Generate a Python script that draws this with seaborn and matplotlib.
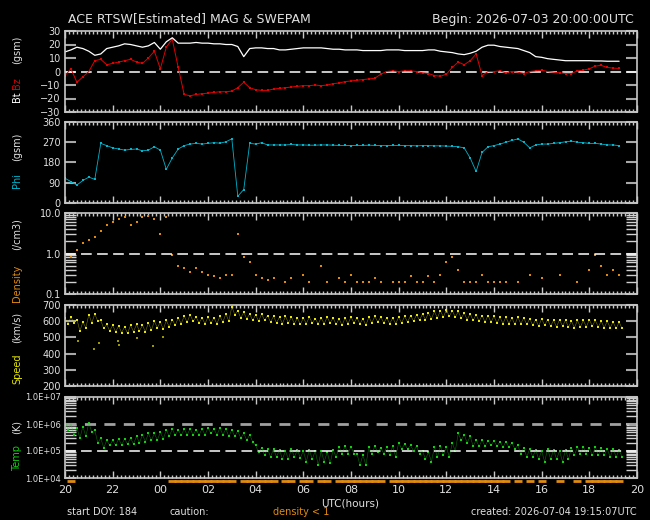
import numpy as np
import pandas as pd
import matplotlib
matplotlib.use('Agg')
import matplotlib.pyplot as plt
import matplotlib.ticker as mticker
import matplotlib.transforms as mtransforms
import seaborn as sns

# 15-minute samples, hours since 2026-07-03 20:00 UTC
hours = np.arange(0, 23.5, 0.25)

bt = [14.5, 16, 18, 17, 15, 12, 13, 17,
      18, 19, 20.5, 20, 19, 18, 19, 21.5,
      16.5, 22, 25, 21, 21, 21, 21.5, 21,
      21, 20.5, 20.5, 20, 20, 18.5, 11, 17,
      17.5, 17.5, 17, 17, 16, 16, 16.5, 17,
      17.5, 17.5, 17.5, 17.5, 17, 16.5, 16.5, 16,
      16, 16, 15.5, 15.5, 15.5, 15.5, 16, 16,
      16, 15.5, 15.5, 15.5, 15.5, 16, 16, 15,
      14.5, 14, 13, 12.5, 13.5, 15, 18, 19.5,
      19.5, 18.5, 18, 17.5, 17, 15.5, 14, 11,
      10.5, 9.5, 9, 8.5, 8, 8, 8, 8,
      8, 7.8, 7.8, 7.6, 7.6, 7.6]

bz = [-3, 2, -8, -4, 0, 8, 9, 5,
      6, 7, 8, 9, 7, 6, 10, 15,
      2, 18, 24, 3, -17, -18, -17, -16.5,
      -16, -15.5, -15, -15, -14.5, -12, -8, -12,
      -13.5, -14, -14, -13, -12.5, -12, -11.5, -11,
      -10.5, -10.5, -10, -10.5, -10, -9, -8.5, -7.5,
      -7, -6.5, -6, -5.5, -5, -2, 0, 0.5,
      0, 0.5, 0.5, 0, -1, -1.5, -3, -3.5,
      -2, 3, 7, 5, 8, 13, -3, 0,
      0, 0.5, -1, 0, -0.5, -1.5, 0, 0.5,
      1, 0, -0.5, -1, -1.5, -1.5, 0.5, 1,
      2, 4, 4.5, 3, 2.5, 2.3]

phi = [110, 95, 80, 100, 115, 105, 265, 255,
       245, 240, 235, 238, 240, 232, 235, 250,
       235, 150, 200, 240, 255, 262, 265, 262,
       265, 268, 266, 272, 285, 30, 60, 265,
       262, 268, 258, 258, 258, 258, 260, 258,
       258, 257, 257, 258, 258, 257, 256, 256,
       255, 256, 256, 257, 256, 255, 255, 256,
       256, 255, 255, 254, 255, 255, 254, 254,
       253, 252, 250, 245, 200, 140, 225, 250,
       255, 262, 270, 278, 285, 270, 245, 258,
       262, 262, 265, 268, 272, 275, 270, 268,
       265, 265, 262, 258, 258, 255]

nan = np.nan
density = [1.1, 0.8, 1.2, 1.8, 2.2, 2.6, 3.5, 5.0,
           6.0, 7.0, 8.0, 5.0, 6.0, 8.0, 8.5, 7.0,
           3.0, 8.0, 0.9, 0.5, 0.45, 0.35, 0.45, 0.35,
           0.3, 0.28, 0.25, 0.3, 0.3, 3.0, 0.8, 0.6,
           0.3, 0.25, 0.22, 0.25, nan, 0.2, 0.25, nan,
           0.3, 0.2, nan, 0.5, 0.2, nan, 0.25, 0.2,
           0.3, 0.2, 0.2, 0.2, 0.25, 0.2, nan, 0.2,
           0.2, 0.2, 0.28, 0.2, 0.2, 0.28, 0.2, 0.3,
           0.6, 0.8, 0.4, 0.2, 0.2, 0.2, 0.3, 0.2,
           0.2, 0.2, 0.2, nan, 0.2, nan, 0.3, nan,
           0.25, nan, nan, 0.3, nan, nan, 0.2, nan,
           0.4, 0.9, 0.5, 0.3, 0.4, 0.3]

speed_hi = [620, 625, 610, 595, 640, 645, 605, 580,
            575, 570, 565, 575, 580, 575, 590, 600,
            595, 605, 610, 620, 630, 640, 625, 620,
            625, 620, 630, 645, 690, 665, 655, 645,
            640, 645, 635, 630, 625, 630, 625, 620,
            620, 625, 615, 620, 625, 620, 615, 620,
            625, 620, 615, 625, 630, 625, 620, 620,
            625, 630, 635, 640, 645, 650, 660, 665,
            670, 665, 660, 650, 645, 640, 635, 635,
            630, 625, 625, 620, 625, 620, 615, 610,
            615, 610, 605, 610, 605, 600, 605, 605,
            610, 605, 600, 600, 595, 595]

speed_lo = [585, 590, 540, 560, 590, 600, 555, 540,
            535, 530, 525, 535, 540, 535, 545, 560,
            550, 565, 575, 585, 595, 600, 590, 585,
            590, 585, 595, 600, 640, 620, 615, 605,
            600, 605, 595, 590, 585, 590, 585, 580,
            585, 590, 585, 585, 590, 580, 575, 585,
            590, 585, 575, 590, 595, 590, 585, 585,
            590, 595, 600, 605, 610, 615, 620, 625,
            630, 625, 620, 610, 605, 600, 595, 595,
            590, 585, 585, 580, 585, 580, 575, 570,
            575, 570, 565, 570, 565, 560, 565, 565,
            570, 565, 560, 560, 555, 555]

speed_out_t = [0.55, 1.23, 1.41, 2.24, 2.26, 3.0, 3.68, 4.1]
speed_out_v = [475, 427, 465, 475, 455, 496, 444, 502]

temp_hi = [1.4e6, 1.0e6, 7e5, 8e5, 1.1e6, 6e5, 3e5, 2.5e5,
           2.5e5, 2.8e5, 2.8e5, 3.0e5, 3.5e5, 4e5, 4.5e5, 4.5e5,
           5e5, 6e5, 6.5e5, 6e5, 6.5e5, 6.5e5, 6e5, 6.5e5,
           7e5, 6.5e5, 7e5, 6.5e5, 6e5, 5.5e5, 4.5e5, 4e5,
           1.6e5, 1.3e5, 1.2e5, 1.2e5, 1.1e5, 1.0e5, 1.2e5, 1.1e5,
           1.0e5, 1.1e5, 1.0e5, 1.0e5, 9e4, 1.1e5, 1.4e5, 1.5e5,
           1.4e5, 8e4, 7e4, 1.4e5, 1.5e5, 1.3e5, 1.4e5, 1.5e5,
           2.0e5, 1.8e5, 1.6e5, 1.5e5, 1.0e5, 9e4, 1.4e5, 1.5e5,
           1.4e5, 2.0e5, 4.5e5, 4e5, 3.5e5, 2.5e5, 2.5e5, 2.4e5,
           2.4e5, 2.2e5, 2.2e5, 2.0e5, 1.6e5, 1.3e5, 1.2e5, 1.1e5,
           1.0e5, 1.2e5, 1.1e5, 1.0e5, 1.1e5, 1.3e5, 1.4e5, 1.4e5,
           1.3e5, 1.4e5, 1.3e5, 1.2e5, 1.2e5, 1.1e5]

temp_lo = [6e5, 4e5, 3e5, 3.5e5, 5e5, 2e5, 1.3e5, 1.6e5,
           1.6e5, 1.7e5, 1.8e5, 1.8e5, 2e5, 2.2e5, 2.5e5, 2.5e5,
           2.8e5, 3.5e5, 3.8e5, 3.8e5, 4e5, 4e5, 4e5, 4e5,
           4.5e5, 4e5, 4e5, 3.5e5, 3.5e5, 3e5, 2.5e5, 2.2e5,
           9e4, 7e4, 6e4, 6e4, 5e4, 5e4, 6e4, 5.5e4,
           4e4, 5e4, 3e4, 4e4, 3.5e4, 6e4, 8e4, 8e4,
           8e4, 3e4, 3e4, 8e4, 9e4, 8e4, 7e4, 6e4,
           1.2e5, 1.2e5, 1e5, 8e4, 5e4, 4e4, 6e4, 7e4,
           6e4, 1e5, 2.5e5, 2e5, 1.5e5, 1.5e5, 1.5e5, 1.6e5,
           1.5e5, 1.4e5, 1.4e5, 1.2e5, 8e4, 6e4, 6e4, 5e4,
           4e4, 5e4, 5e4, 4e4, 5e4, 7e4, 8e4, 8e4,
           7e4, 7e4, 7e4, 6e4, 6e4, 6e4]

xtick_hours = list(range(0, 25, 2))
xtick_labels = ['20', '22', '00', '02', '04', '06', '08', '10', '12', '14', '16', '18', '20']

bt_ticks = [-30, -20, -10, 0, 10, 20, 30]
bt_labels = ['\u221230', '\u221220', '\u221210', '0', '10', '20', '30']
phi_ticks = [0, 90, 180, 270, 360]
dens_ticks = [0.1, 1.0, 10.0]
dens_labels = ['0.1', '1.0', '10.0']
speed_ticks = [200, 300, 400, 500, 600, 700]
temp_ticks = [1e4, 1e5, 1e6, 1e7]
temp_labels = ['1.0E+04', '1.0E+05', '1.0E+06', '1.0E+07']

C_BZ = '#e00000'
C_PHI = '#00b4cc'
C_DENS = '#e08a10'
C_SPEED = '#e6e600'
C_TEMP = '#10d010'
C_TXT = '#e0e0e0'
C_FRAME = '#c8c8c8'
C_TICK = '#a8a8a8'

sns.set_style('dark', rc={'axes.facecolor': 'black', 'figure.facecolor': 'black',
                          'axes.grid': False, 'axes.edgecolor': C_FRAME,
                          'text.color': C_TXT, 'xtick.color': C_TXT, 'ytick.color': C_TXT})
plt.rcParams['font.family'] = ['DejaVu Sans']

W, H = 650, 520
fig = plt.figure(figsize=(6.5, 5.2), dpi=100)
fig.patch.set_facecolor('black')

panel_px = [(31, 112), (122, 203), (213, 294), (305, 386), (397, 478)]
axes = []
for top, bot in panel_px:
    ax = fig.add_axes([65 / W, 1 - bot / H, 572 / W, (bot - top) / H])
    ax.set_facecolor('black')
    axes.append(ax)
ax1, ax2, ax3, ax4, ax5 = axes

df = pd.DataFrame({'hour': hours, 'bt': bt, 'bz': bz, 'phi': phi, 'density': density})

# band readings: upper edge at the sample time, lower edge half a step later,
# joined in time order so the band reads like noisy 1-min data
hi = pd.DataFrame({'hour': hours, 'speed': speed_hi, 'temp': temp_hi})
lo = pd.DataFrame({'hour': hours + 0.125, 'speed': speed_lo, 'temp': temp_lo})
band = pd.concat([hi, lo]).sort_values('hour').reset_index(drop=True)

DOT = dict(s=2.5, marker='s', linewidth=0)

# Bt / Bz
ax1.axhline(0, color='white', lw=1.1, ls=(0, (7, 3.5)))
sns.lineplot(data=df, x='hour', y='bz', ax=ax1, color=C_BZ, lw=0.7, estimator=None)
sns.scatterplot(data=df, x='hour', y='bz', ax=ax1, color=C_BZ, **DOT)
sns.lineplot(data=df, x='hour', y='bt', ax=ax1, color='white', lw=0.9, estimator=None)
ax1.set_ylim(-30, 30)
ax1.set_yticks(bt_ticks)
ax1.set_yticklabels(bt_labels)

# Phi
sns.lineplot(data=df, x='hour', y='phi', ax=ax2, color=C_PHI, lw=0.6, estimator=None)
sns.scatterplot(data=df, x='hour', y='phi', ax=ax2, color=C_PHI, **DOT)
ax2.set_ylim(0, 360)
ax2.set_yticks(phi_ticks)

# Density
ax3.set_yscale('log')
ax3.axhline(1.0, color='white', lw=1.1, ls=(0, (7, 3.5)))
sns.scatterplot(data=df, x='hour', y='density', ax=ax3, color=C_DENS, s=4, marker='s', linewidth=0)
ax3.set_ylim(0.1, 10)
ax3.set_yticks(dens_ticks)
ax3.set_yticklabels(dens_labels)
ax3.yaxis.set_minor_locator(mticker.LogLocator(subs=np.arange(2, 10)))
ax3.yaxis.set_minor_formatter(mticker.NullFormatter())

# Speed
sns.lineplot(data=band, x='hour', y='speed', ax=ax4, color=C_SPEED, lw=0.4, alpha=0.5,
             estimator=None, sort=False)
sns.scatterplot(data=band, x='hour', y='speed', ax=ax4, color=C_SPEED, **DOT)
sns.scatterplot(x=speed_out_t, y=speed_out_v, ax=ax4, color='#9a9a00', **DOT)
ax4.set_ylim(200, 700)
ax4.set_yticks(speed_ticks)

# Temp
ax5.set_yscale('log')
ax5.axhline(1e6, color='#a0a0a0', lw=2, ls=(0, (4, 3)))
ax5.axhline(1e5, color='white', lw=1.1, ls=(0, (7, 3.5)))
sns.lineplot(data=band, x='hour', y='temp', ax=ax5, color=C_TEMP, lw=0.4, alpha=0.5,
             estimator=None, sort=False)
sns.scatterplot(data=band, x='hour', y='temp', ax=ax5, color=C_TEMP, **DOT)
ax5.set_ylim(1e4, 1e7)
ax5.set_yticks(temp_ticks)
ax5.set_yticklabels(temp_labels)
ax5.yaxis.set_minor_locator(mticker.LogLocator(subs=np.arange(2, 10)))
ax5.yaxis.set_minor_formatter(mticker.NullFormatter())

# caution bar (density < 1) under the last panel
dens_arr = np.array(density, dtype=float)
low = dens_arr < 1
trans = mtransforms.blended_transform_factory(ax5.transData, ax5.transAxes)
ax5.plot(hours[low], np.full(low.sum(), -0.04), ls='none', marker='_', ms=6, mew=2,
         color=C_DENS, transform=trans, clip_on=False)

for ax in axes:
    ax.set_xlim(0, 24)
    ax.set_xlabel('')
    ax.set_ylabel('')
    ax.xaxis.set_major_locator(mticker.FixedLocator(xtick_hours))
    ax.xaxis.set_minor_locator(mticker.MultipleLocator(1 / 6))
    ax.tick_params(axis='x', which='both', direction='in', top=True, bottom=True,
                   color=C_FRAME, labelbottom=False)
    ax.tick_params(axis='x', which='major', length=5, width=1)
    ax.tick_params(axis='x', which='minor', length=2, width=1)
    ax.tick_params(axis='y', which='both', direction='in', left=True, right=True,
                   color=C_TICK, labelsize=7, labelcolor=C_TXT, pad=3)
    ax.tick_params(axis='y', which='major', length=8, width=1.5)
    ax.tick_params(axis='y', which='minor', length=8, width=1, color='#d0d0d0')
    for s in ax.spines.values():
        s.set_color(C_FRAME)
        s.set_linewidth(1.2)

ax5.tick_params(axis='y', labelsize=6)
ax5.set_xticks(xtick_hours)
ax5.set_xticklabels(xtick_labels)
ax5.tick_params(axis='x', labelbottom=True, labelsize=8, labelcolor=C_TXT, pad=5)

# titles
fig.text(68 / W, 1 - 19 / H, 'ACE RTSW[Estimated] MAG & SWEPAM', fontsize=9, color=C_TXT, va='center')
fig.text(634 / W, 1 - 19 / H, 'Begin: 2026-07-03 20:00:00UTC', fontsize=9, color=C_TXT, va='center', ha='right')

# y labels (rotated, multi-colour)
ylab = [(97, 'Bt', 'white'), (83, 'Bz', C_BZ), (50, '(gsm)', C_TXT),
        (181, 'Phi', C_PHI), (147, '(gsm)', C_TXT),
        (283, 'Density', C_DENS), (234, '(/cm3)', C_TXT),
        (369, 'Speed', C_SPEED), (327, '(km/s)', C_TXT),
        (458, 'Temp', C_TEMP), (427, '(K)', C_TXT)]
for ypx, txt, col in ylab:
    fig.text(17 / W, 1 - ypx / H, txt, rotation=90, color=col, fontsize=7, ha='center', va='center')

# footer
fig.text(350 / W, 1 - 504 / H, 'UTC(hours)', fontsize=7.5, color=C_TXT, ha='center', va='center')
fig.text(67 / W, 1 - 512 / H, 'start DOY: 184', fontsize=7, color=C_TXT, va='center')
fig.text(170 / W, 1 - 512 / H, 'caution:', fontsize=7, color=C_TXT, va='center')
fig.text(273 / W, 1 - 512 / H, 'density < 1', fontsize=7, color=C_DENS, va='center')
fig.text(637 / W, 1 - 512 / H, 'created: 2026-07-04 19:15:07UTC', fontsize=7, color=C_TXT, va='center', ha='right')

fig.savefig('out.png', dpi=100, facecolor='black')
